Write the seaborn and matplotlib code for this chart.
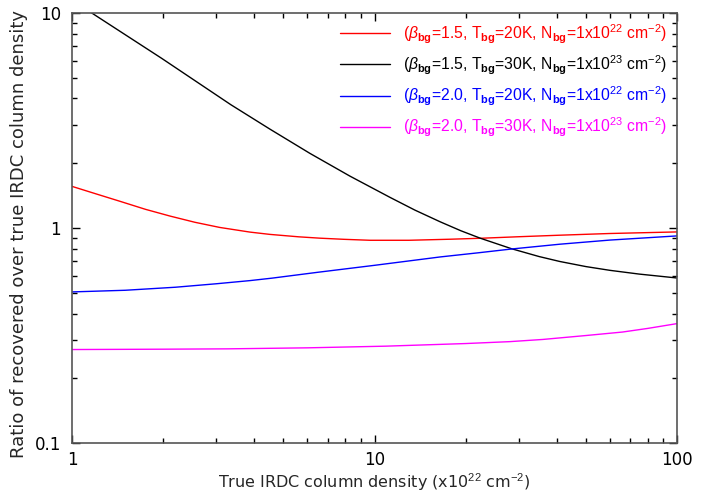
"""
Ratio of recovered over true IRDC column density for four background models.
"""
import matplotlib
matplotlib.use("Agg")
import matplotlib.pyplot as plt
import matplotlib.ticker as ticker
import pandas as pd
import seaborn as sns

# values
red_x = [1, 1.2, 1.44, 1.75, 2.11, 2.55, 3.08, 3.88, 4.51, 5.62, 6.6, 7.94, 9.67, 13, 17.8, 22.4, 30, 41, 60, 100]
red_y = [1.56, 1.44, 1.33, 1.22, 1.135, 1.062, 1.005, 0.956, 0.933, 0.909, 0.896, 0.885, 0.876,
         0.876, 0.886, 0.895, 0.91, 0.925, 0.942, 0.958]

black_x = [1, 1.16, 1.98, 3.35, 4.51, 6.12, 8.3, 11.25, 13.6, 16.5, 19.3, 22.4, 28.4, 35, 41, 50, 60, 75, 100]
black_y = [11.5, 10, 6.14, 3.74, 2.88, 2.22, 1.74, 1.387, 1.21, 1.067, 0.97, 0.895, 0.80, 0.736,
           0.698, 0.661, 0.635, 0.610, 0.585]

blue_x = [1, 1.5, 2.2, 3.0, 3.88, 4.58, 6.5, 10, 16.5, 22, 28.4, 41, 60, 100]
blue_y = [0.504, 0.513, 0.530, 0.550, 0.569, 0.584, 0.622, 0.67, 0.733, 0.766, 0.798, 0.84, 0.878, 0.918]

magenta_x = [1, 2, 3.26, 6, 10.9, 20, 28, 36, 50, 66, 80, 100]
magenta_y = [0.272, 0.273, 0.274, 0.277, 0.282, 0.29, 0.296, 0.303, 0.316, 0.328, 0.341, 0.359]

labels = [
    r"($\beta_{\mathbf{bg}}$=1.5, T$_{\mathbf{bg}}$=20K, N$_{\mathbf{bg}}$=1x10$^{22}$ cm$^{-2}$)",
    r"($\beta_{\mathbf{bg}}$=1.5, T$_{\mathbf{bg}}$=30K, N$_{\mathbf{bg}}$=1x10$^{23}$ cm$^{-2}$)",
    r"($\beta_{\mathbf{bg}}$=2.0, T$_{\mathbf{bg}}$=20K, N$_{\mathbf{bg}}$=1x10$^{22}$ cm$^{-2}$)",
    r"($\beta_{\mathbf{bg}}$=2.0, T$_{\mathbf{bg}}$=30K, N$_{\mathbf{bg}}$=1x10$^{23}$ cm$^{-2}$)",
]
colors = ["#ff0000", "#000000", "#0000ff", "#ff00ff"]

series = [(red_x, red_y), (black_x, black_y), (blue_x, blue_y), (magenta_x, magenta_y)]
df = pd.concat(
    [pd.DataFrame({"x": xs, "y": ys, "model": lab}) for (xs, ys), lab in zip(series, labels)],
    ignore_index=True,
)

sns.set_theme(style="ticks")
plt.rcParams["font.family"] = ["DejaVu Sans"]
plt.rcParams["mathtext.fontset"] = "custom"
plt.rcParams["mathtext.rm"] = "Liberation Sans"
plt.rcParams["mathtext.it"] = "Liberation Sans:italic"
plt.rcParams["mathtext.bf"] = "Liberation Sans:bold"

fig = plt.figure(figsize=(7.22, 4.93), dpi=100)
ax = fig.add_axes([0.0997, 0.1014, 0.8380, 0.8726])

sns.lineplot(
    data=df, x="x", y="y", hue="model", palette=dict(zip(labels, colors)),
    estimator=None, sort=True, linewidth=1.0, legend=False, ax=ax,
)

ax.set_xscale("log")
ax.set_yscale("log")
ax.set_xlim(1, 100)
ax.set_ylim(0.1, 10)

fmt = ticker.FuncFormatter(lambda v, p: f"{v:g}")
for axis in (ax.xaxis, ax.yaxis):
    axis.set_major_locator(ticker.LogLocator(base=10))
    axis.set_major_formatter(fmt)
    axis.set_minor_locator(ticker.LogLocator(base=10, subs=range(2, 10)))
    axis.set_minor_formatter(ticker.NullFormatter())

ax.tick_params(which="both", direction="in", top=True, right=True, colors="black", labelsize=12)
ax.tick_params(which="major", length=6, width=1.0)
ax.tick_params(which="minor", length=3.5, width=1.0)
ax.tick_params(axis="x", pad=6)
ax.tick_params(axis="y", pad=8)
for sp in ax.spines.values():
    sp.set_color("#555555")
    sp.set_linewidth(1.2)

ax.set_xlabel(r"True IRDC column density (x10$^{22}$ cm$^{-2}$)", fontsize=11.5)
ax.set_ylabel("Ratio of recovered over true IRDC column density", fontsize=13)
ax.xaxis.set_label_coords(0.5, -0.065)
ax.yaxis.set_label_coords(-0.073, 0.485)

leg = ax.legend(
    handles=ax.lines, labels=labels, loc="upper right", frameon=False,
    prop={"family": "Liberation Sans", "size": 11.3}, labelcolor="linecolor",
    handlelength=3.2, handletextpad=0.83,
    labelspacing=0.5, borderaxespad=0.3, borderpad=0.3,
)

fig.savefig("out.png", dpi=100)
